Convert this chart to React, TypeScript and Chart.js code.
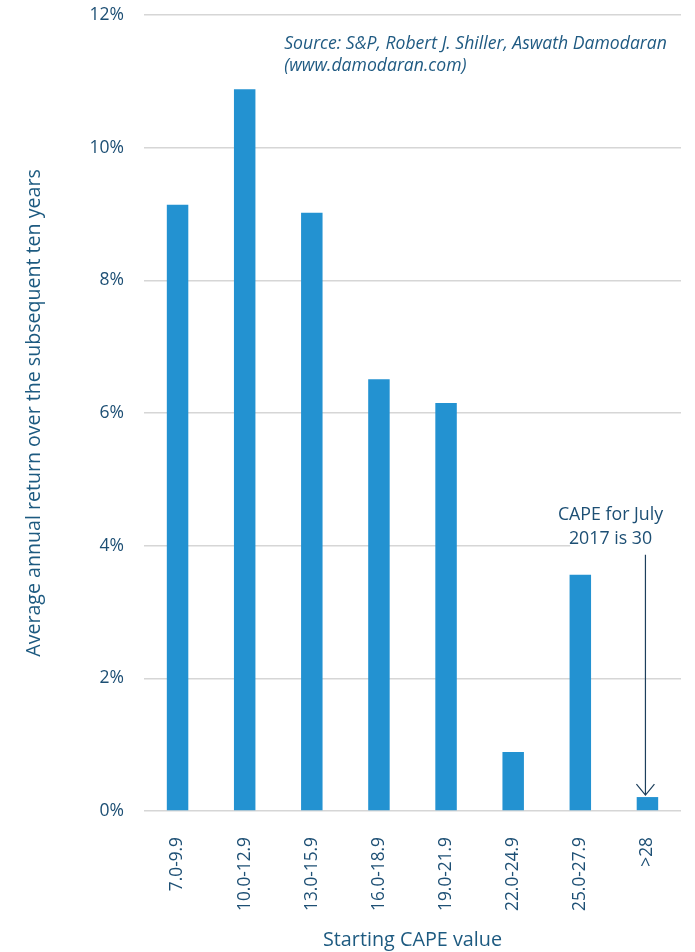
import React, { useEffect, useRef } from "react";
import { Chart, registerables } from "chart.js";

Chart.register(...registerables);

const categories = ["7.0-9.9", "10.0-12.9", "13.0-15.9", "16.0-18.9", "19.0-21.9", "22.0-24.9", "25.0-27.9", ">28"];
const avgReturns = [9.14, 10.88, 9.02, 6.51, 6.15, 0.89, 3.56, 0.21];
const yTicks = [0, 2, 4, 6, 8, 10, 12];
const sourceLines = ["Source: S&P, Robert J. Shiller, Aswath Damodaran", "(www.damodaran.com)"];
const noteLines = ["CAPE for July", "2017 is 30"];
const noteCategoryIndex = 7;
const noteLevel = 4;

const FONT = "'Open Sans', 'Noto Sans', sans-serif";
const TEXT = "#1d4f74";
const BAR = "#2392d1";
const GRID = "#d6d6d6";

const annotationPlugin = {
  id: "annotations",
  afterDraw(chart: any) {
    const { ctx, chartArea, scales } = chart;
    const x = scales.x;
    const y = scales.y;
    ctx.save();
    // source text
    ctx.font = `italic 17.6px ${FONT}`;
    ctx.fillStyle = "#1f5a82";
    ctx.textAlign = "left";
    ctx.textBaseline = "middle";
    const sx = x.getPixelForValue(1.5) + 6;
    const sy = chartArea.top + 29;
    sourceLines.forEach((l, i) => ctx.fillText(l, sx, sy + i * 22));

    // note box covering gridline
    const arrowX = x.getPixelForValue(noteCategoryIndex) - 2;
    const gy = y.getPixelForValue(noteLevel);
    const boxLeft = x.getPixelForValue(5.85);
    ctx.fillStyle = "#ffffff";
    ctx.fillRect(boxLeft, gy - 48, chartArea.right - boxLeft + 2, 54);
    ctx.fillStyle = TEXT;
    ctx.font = `17.8px ${FONT}`;
    ctx.textAlign = "center";
    const tx = x.getPixelForValue(6.45);
    ctx.fillText(noteLines[0], tx, gy - 31);
    ctx.fillText(noteLines[1], tx, gy - 7);

    // arrow
    const top = gy + 9;
    const tip = y.getPixelForValue(avgReturns[noteCategoryIndex]) - 2;
    ctx.strokeStyle = "#1d3f5c";
    ctx.lineWidth = 1.2;
    ctx.beginPath();
    ctx.moveTo(arrowX, top);
    ctx.lineTo(arrowX, tip);
    ctx.moveTo(arrowX - 9, tip - 11);
    ctx.lineTo(arrowX, tip);
    ctx.lineTo(arrowX + 9, tip - 11);
    ctx.stroke();
    ctx.restore();
  },
};

export default function App() {
  const ref = useRef<HTMLCanvasElement>(null);
  useEffect(() => {
    if (!ref.current) return;
    const chart = new Chart(ref.current, {
      type: "bar",
      data: {
        labels: categories,
        datasets: [
          {
            data: avgReturns,
            backgroundColor: BAR,
            barPercentage: 0.32,
            categoryPercentage: 1,
          },
        ],
      },
      options: {
        animation: false,
        responsive: false,
        maintainAspectRatio: false,
        layout: { padding: { top: 15, right: 14, left: 0, bottom: 0 } },
        plugins: { legend: { display: false }, tooltip: { enabled: false } },
        scales: {
          x: {
            grid: { display: false },
            border: { display: false },
            ticks: {
              color: TEXT,
              font: { family: FONT, size: 17.3 },
              maxRotation: 90,
              minRotation: 90,
              padding: 18,
            },
            title: {
              display: true,
              text: "Starting CAPE value",
              color: "#1d5a80",
              font: { family: FONT, size: 19.8 },
              padding: { top: 0, bottom: 0 },
            },
            afterFit(scale: any) {
              scale.height = 141;
              scale.paddingLeft = 0;
              scale.paddingRight = 0;
            },
          },
          y: {
            min: 0,
            max: 12,
            afterBuildTicks(scale: any) {
              scale.ticks = yTicks.map((v) => ({ value: v }));
            },
            grid: { color: GRID, lineWidth: 1.6, drawTicks: false },
            border: { display: false },
            ticks: {
              color: TEXT,
              font: { family: FONT, size: 17.5 },
              padding: 20,
              callback: (v: any) => `${v}%`,
            },
            title: {
              display: true,
              text: "Average annual return over the subsequent ten years",
              color: "#1d5a80",
              font: { family: FONT, size: 19.6 },
              padding: { top: 23, bottom: 0 },
            },
            afterFit(scale: any) {
              scale.width = 144;
              scale.paddingTop = 0;
              scale.paddingBottom = 0;
            },
          },
        },
      },
      plugins: [annotationPlugin],
    });
    return () => chart.destroy();
  }, []);
  return (
    <div style={{ position: "fixed", left: 0, top: 0, width: 695, height: 952, background: "#fff" }}>
      <canvas ref={ref} width={695} height={952} style={{ display: "block" }} />
    </div>
  );
}
